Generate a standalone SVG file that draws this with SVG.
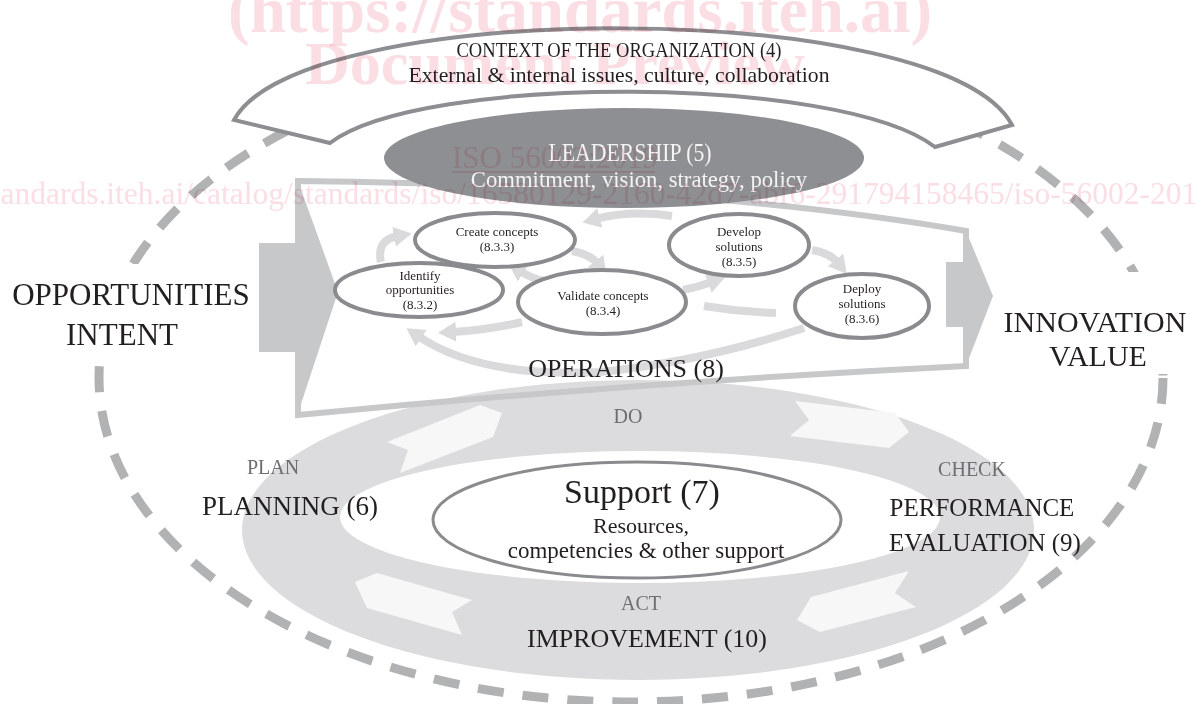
<svg xmlns="http://www.w3.org/2000/svg" width="1198" height="704" viewBox="0 0 1198 704" font-family="'Liberation Serif', 'DejaVu Serif', serif">
<style>
text{font-family:"Liberation Serif","DejaVu Serif",serif}
.t{fill:#231f20}
.m{text-anchor:middle}
.pd{font-size:20px;fill:#6d6e71}
.big{font-size:26px}
.sm{font-size:13px}
.el{fill:#ffffff;stroke:#8a8b8e;stroke-width:4}
.proc{fill:none;stroke:#dadadc;stroke-width:8;stroke-linecap:butt}
.chev{fill:#f7f7f7}
.op{fill:#c7c8ca}
.wm{fill:#fbdee4;mix-blend-mode:multiply}
</style>
<defs>
<marker id="ah" markerUnits="userSpaceOnUse" markerWidth="22" markerHeight="22" refX="4" refY="11" orient="auto">
<path d="M0,1 L18,11 L0,21 Z" fill="#dadadc"/>
</marker>
</defs>
<rect width="1198" height="704" fill="#ffffff"/>

<g id="outer-boundary">
<ellipse cx="631" cy="378" rx="532" ry="324" fill="none" stroke="#b1b2b4" stroke-width="9" stroke-dasharray="26 19"/>
</g>

<g id="pdca-ring">
<path fill="#dcdcde" fill-rule="evenodd" d="M242,530 a396,150 0 1,0 792,0 a396,150 0 1,0 -792,0 Z M340,517 a300,66 0 1,0 600,0 a300,66 0 1,0 -600,0 Z"/>
<polygon class="chev" points="387,442 480,405 502,413 493,437 400,473 408,450"/>
<polygon class="chev" points="795,401 895,413 909,432 889,448 790,436 809,420"/>
<polygon class="chev" points="909,571 895,593 916,607 820,632 797,620 811,597"/>
<polygon class="chev" points="355,582 377,573 472,600 452,612 462,635 367,608"/>
</g>

<g id="operations">
<path d="M298,181 Q700,185 966,231 L966,366 Q640,382 298,415 Z" fill="none" stroke="#c7c8ca" stroke-width="6" stroke-linejoin="miter"/>
<rect class="op" x="259" y="243" width="40" height="109"/>
<polygon class="op" points="298,181 338,292 298,413"/>
<rect class="op" x="946" y="262" width="20" height="65"/>
<polygon class="op" points="966,231 993,296 966,366"/>
</g>

<g id="connectors">
<path class="proc" d="M381,262 Q376,240 398,236" marker-end="url(#ah)"/>
<path class="proc" d="M572,251 Q590,254 598,264" marker-end="url(#ah)"/>
<path class="proc" d="M548,282 Q532,279 520,271" marker-end="url(#ah)"/>
<path class="proc" d="M683,290 Q698,287 712,282" marker-end="url(#ah)"/>
<path class="proc" d="M672,216 Q630,210 596,219" marker-end="url(#ah)"/>
<path class="proc" d="M812,250 Q830,253 838,263" marker-end="url(#ah)"/>
<path class="proc" d="M776,313 Q740,312 704,306"/>
<path class="proc" d="M522,322 Q488,330 452,332" marker-end="url(#ah)"/>
<path class="proc" stroke-width="10" d="M804,328 Q700,362 600,372 Q480,378 418,336" marker-end="url(#ah)"/>
</g>

<g id="context">
<path d="M234,120 C300,-3 945,-3 1012,125 L935,147 C840,74 420,74 330,143 Z" fill="#ffffff" stroke="#8d8e91" stroke-width="4" stroke-linejoin="miter"/>
<text class="t m" transform="translate(619,57) scale(0.844,1)" x="0" y="0" font-size="22">CONTEXT OF THE ORGANIZATION (4)</text>
<text class="t m" x="619" y="82" font-size="21.7">External &amp; internal issues, culture, collaboration</text>
</g>

<g id="leadership">
<ellipse cx="624" cy="158" rx="240" ry="50" fill="#8e8f92"/>
<text class="t m" transform="translate(630,161) scale(0.871,1)" x="0" y="0" font-size="25" style="fill:#f4f4f4">LEADERSHIP (5)</text>
<text class="t m" x="639" y="187" font-size="22.7" style="fill:#f4f4f4">Commitment, vision, strategy, policy</text>
</g>

<g id="identify-opportunities">
<ellipse class="el" cx="419" cy="290" rx="84" ry="27"/>
<text class="t m sm" x="420" y="280">Identify</text>
<text class="t m sm" x="420" y="294">opportunities</text>
<text class="t m sm" x="420" y="309">(8.3.2)</text>
</g>
<g id="create-concepts">
<ellipse class="el" cx="495" cy="240" rx="80" ry="27"/>
<text class="t m sm" x="497" y="236">Create concepts</text>
<text class="t m sm" x="497" y="251">(8.3.3)</text>
</g>
<g id="validate-concepts">
<ellipse class="el" cx="602" cy="302" rx="84" ry="32"/>
<text class="t m sm" x="603" y="300">Validate concepts</text>
<text class="t m sm" x="603" y="315">(8.3.4)</text>
</g>
<g id="develop-solutions">
<ellipse class="el" cx="739" cy="245" rx="70" ry="31"/>
<text class="t m sm" x="739" y="236">Develop</text>
<text class="t m sm" x="739" y="251">solutions</text>
<text class="t m sm" x="739" y="266">(8.3.5)</text>
</g>
<g id="deploy-solutions">
<ellipse class="el" cx="862" cy="306" rx="67" ry="32"/>
<text class="t m sm" x="862" y="293">Deploy</text>
<text class="t m sm" x="862" y="308">solutions</text>
<text class="t m sm" x="862" y="323">(8.3.6)</text>
</g>

<g id="operations-label">
<text class="t m big" x="626" y="377">OPERATIONS (8)</text>
</g>

<g id="opportunities">
<rect x="4" y="264" width="252" height="94" fill="#ffffff"/>
<text class="t m" x="131" y="305" font-size="31">OPPORTUNITIES</text>
<text class="t m" x="122" y="345" font-size="31">INTENT</text>
</g>
<g id="innovation">
<rect x="997" y="272" width="198" height="102" fill="#ffffff"/>
<text class="t m" x="1095" y="332" font-size="30">INNOVATION</text>
<text class="t m" x="1098" y="366" font-size="30">VALUE</text>
</g>

<g id="plan">
<text class="t m pd" x="273" y="474">PLAN</text>
<text class="t m" x="290" y="515" font-size="27">PLANNING (6)</text>
</g>
<g id="do">
<text class="t m pd" x="628" y="423">DO</text>
</g>
<g id="check">
<text class="t m pd" x="972" y="476">CHECK</text>
<text class="t m" x="982" y="516" font-size="25">PERFORMANCE</text>
<text class="t m" x="985" y="551" font-size="25">EVALUATION (9)</text>
</g>
<g id="act">
<text class="t m pd" x="641" y="610">ACT</text>
<text class="t m big" x="647" y="647">IMPROVEMENT (10)</text>
</g>

<g id="support">
<ellipse cx="637" cy="520" rx="204" ry="58" fill="#ffffff" stroke="#8a8b8e" stroke-width="3"/>
<text class="t m" x="642" y="503" font-size="34">Support (7)</text>
<text class="t m" x="641" y="533" font-size="22">Resources,</text>
<text class="t m" x="646" y="558" font-size="23">competencies &amp; other support</text>
</g>

<g id="watermark">
<text class="wm" x="228" y="32" font-size="65" font-weight="bold">(https://standards.iteh.ai)</text>
<text class="wm" x="305" y="84" font-size="62" font-weight="bold">Document Preview</text>
<text class="wm" x="452" y="168" font-size="31">ISO 56002:2019</text>
<rect class="wm" x="452" y="171" width="203" height="2"/>
<text class="wm" x="-108" y="204" font-size="31.5">https://standards.iteh.ai/catalog/standards/iso/16580129-2160-42d7-abf6-291794158465/iso-56002-2019</text>
</g>
</svg>
